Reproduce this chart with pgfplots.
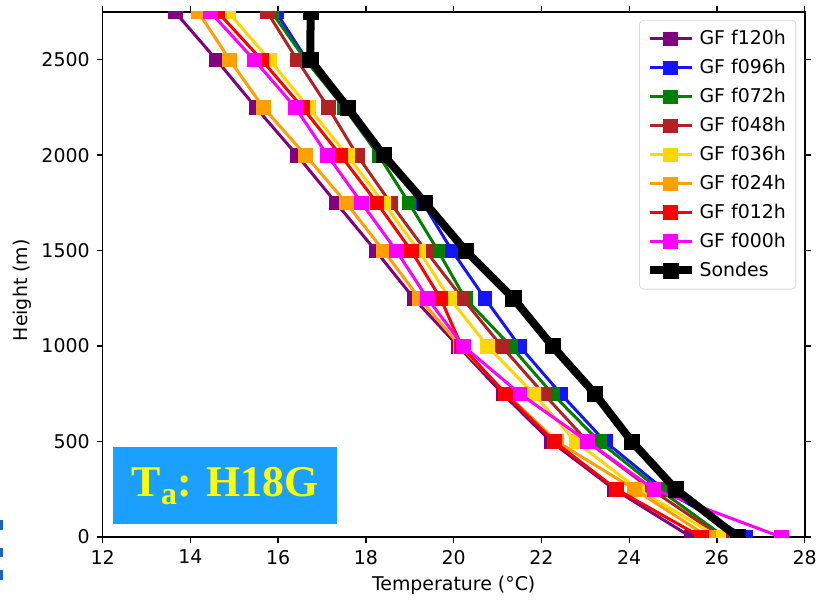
\documentclass[border=0pt]{standalone}
\usepackage{pgfplots}
\pgfplotsset{compat=1.18}
\usepackage{fontspec}
\setmainfont{DejaVu Sans}
\newfontfamily\tnr{Liberation Serif}
\definecolor{cpurple}{RGB}{128,0,128}
\definecolor{cblue}{RGB}{20,20,255}
\definecolor{cgreen}{RGB}{0,128,0}
\definecolor{cbrown}{RGB}{178,34,34}
\definecolor{cyellow}{RGB}{255,215,0}
\definecolor{corange}{RGB}{255,160,0}
\definecolor{cred}{RGB}{255,0,0}
\definecolor{cmagenta}{RGB}{255,0,255}
\definecolor{boxblue}{RGB}{28,160,255}
\definecolor{dashblue}{RGB}{25,100,190}
\definecolor{txtyellow}{RGB}{255,255,0}
\begin{document}
\begin{tikzpicture}
\begin{axis}[
  width=351bp, height=262.5bp, scale only axis,
  xmin=12, xmax=28, ymin=0, ymax=2750,
  xtick={12,14,...,28}, ytick={0,500,...,2500},
  tick align=outside, major tick length=3bp,
  tick style={black, line width=0.7bp},
  axis line style={line width=0.8bp},
  /pgf/number format/assume math mode=true,
  /pgf/number format/set thousands separator={},
  ticklabel style={font=\fontsize{9.5}{11}\selectfont},
  xlabel={Temperature (°C)}, ylabel={Height (m)},
  label style={font=\fontsize{9.5}{11}\selectfont},
  xlabel style={at={(axis description cs:0.5,-0.0914)}, anchor=center},
  ylabel style={at={(axis description cs:-0.114,0.47)}, anchor=center},
  clip marker paths=true,
  legend cell align=left,
  legend style={at={(0.988,0.985)}, anchor=north east, draw=black!15,
    rounded corners=2bp, font=\fontsize{9.5}{11}\selectfont,
    row sep=1.8bp, inner xsep=3bp, inner ysep=3bp},
  legend image code/.code={\draw[mark repeat=2,mark phase=2,#1] plot coordinates {(0bp,0bp) (10.5bp,0bp) (21bp,0bp)};},
  every axis plot/.append style={line width=1.5bp, mark=square*, mark size=3.4bp, mark options={solid, line width=0.3bp}},
]
\addplot[color=cpurple] coordinates {(25.41,0) (23.66,250) (22.22,500) (21.12,750) (20.10,1000) (19.09,1250) (18.22,1500) (17.32,1750) (16.43,2000) (15.49,2250) (14.59,2500) (13.65,2750)};
\addlegendentry{GF f120h}
\addplot[color=cblue] coordinates {(26.66,0) (24.78,250) (23.45,500) (22.44,750) (21.50,1000) (20.71,1250) (19.96,1500) (19.30,1750) (18.38,2000) (17.55,2250) (16.65,2500) (15.95,2750)};
\addlegendentry{GF f096h}
\addplot[color=cgreen] coordinates {(26.17,0) (24.68,250) (23.32,500) (22.25,750) (21.30,1000) (20.26,1250) (19.64,1500) (18.98,1750) (18.29,2000) (17.50,2250) (16.62,2500) (15.85,2750)};
\addlegendentry{GF f072h}
\addplot[color=cbrown] coordinates {(26.10,0) (24.50,250) (23.05,500) (22.05,750) (21.09,1000) (20.20,1250) (19.36,1500) (18.56,1750) (17.80,2000) (17.14,2250) (16.43,2500) (15.75,2750)};
\addlegendentry{GF f048h}
\addplot[color=cyellow] coordinates {(26.03,0) (24.20,250) (22.78,500) (21.82,750) (20.77,1000) (19.91,1250) (19.20,1500) (18.40,1750) (17.57,2000) (16.69,2250) (15.80,2500) (14.86,2750)};
\addlegendentry{GF f036h}
\addplot[color=corange] coordinates {(25.80,0) (24.12,250) (22.35,500) (21.20,750) (20.15,1000) (19.22,1250) (18.40,1500) (17.55,1750) (16.62,2000) (15.66,2250) (14.89,2500) (14.18,2750)};
\addlegendentry{GF f024h}
\addplot[color=cred] coordinates {(25.64,0) (23.71,250) (22.29,500) (21.18,750) (20.18,1000) (19.70,1250) (19.03,1500) (18.25,1750) (17.42,2000) (16.55,2250) (15.62,2500) (14.62,2750)};
\addlegendentry{GF f012h}
\addplot[color=cmagenta] coordinates {(27.46,0) (24.56,250) (23.05,500) (21.51,750) (20.22,1000) (19.40,1250) (18.69,1500) (17.90,1750) (17.12,2000) (16.39,2250) (15.45,2500) (14.45,2750)};
\addlegendentry{GF f000h}
\addplot[color=black, line width=4bp, mark size=3.8bp] coordinates {(26.47,0) (25.06,250) (24.06,500) (23.22,750) (22.25,1000) (21.36,1250) (20.27,1500) (19.35,1750) (18.40,2000) (17.58,2250) (16.73,2500) (16.74,2750)};
\addlegendentry{Sondes}
\node[fill=boxblue, minimum width=112bp, minimum height=38.5bp, inner sep=0pt,
  text=txtyellow, font=\tnr\bfseries\fontsize{22}{24}\selectfont]
  at (axis cs:14.79,269) {T\raisebox{-0.4ex}{\fontsize{16}{16}\selectfont a}: H18G};
\end{axis}
\fill[dashblue] ([shift={(-51.35bp,3.5bp)}]current axis.south west) rectangle ++(1.5bp,5bp);
\fill[dashblue] ([shift={(-51.35bp,-10bp)}]current axis.south west) rectangle ++(1.5bp,4.5bp);
\fill[dashblue] ([shift={(-51.35bp,-21.5bp)}]current axis.south west) rectangle ++(1.5bp,5bp);
\useasboundingbox ([shift={(-51.35bp,-30bp)}]current axis.south west) rectangle ([shift={(361.15bp,268.5bp)}]current axis.south west);
\end{tikzpicture}
\end{document}
